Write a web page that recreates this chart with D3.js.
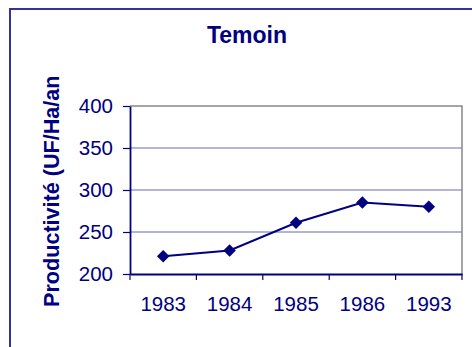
<!DOCTYPE html>
<html>
<head>
<meta charset="utf-8">
<script src="https://cdn.jsdelivr.net/npm/d3@7"></script>
<style>
  html, body { margin: 0; padding: 0; background: #fff; }
  svg { display: block; }
  text { font-family: "Liberation Sans", Arial, sans-serif; }
</style>
</head>
<body>
<svg id="chart" width="472" height="347"></svg>
<script>
// Productivity of the control plot, by year
const years = ["1983", "1984", "1985", "1986", "1993"];
const productivity = [221, 228, 261, 285, 280];
const yTicks = [200, 250, 300, 350, 400];
const chartTitle = "Temoin";
const yTitle = "Productivité (UF/Ha/an";

const plot = { left: 130, right: 462, top: 106, bottom: 274 };
const navy = "#000080";

const svg = d3.select("#chart");

// outer chart frame (runs off the right and bottom edges)
svg.append("rect")
  .attr("x", 10).attr("y", 9)
  .attr("width", 480).attr("height", 360)
  .attr("fill", "#fff")
  .attr("stroke", "#333399")
  .attr("stroke-width", 2);

const x = d3.scaleBand().domain(years).range([plot.left, plot.right]).padding(0);
const y = d3.scaleLinear().domain([200, 400]).range([plot.bottom, plot.top]);

// horizontal gridlines
svg.append("g")
  .selectAll("line")
  .data(yTicks.filter(t => t > 200 && t < 400))
  .join("line")
  .attr("x1", plot.left).attr("x2", plot.right)
  .attr("y1", d => y(d)).attr("y2", d => y(d))
  .attr("stroke", "#6b6bb0")
  .attr("stroke-width", 1.2);

// grey plot-area border (top and right)
svg.append("path")
  .attr("d", `M${plot.left},${y(400)}H${plot.right}V${plot.bottom}`)
  .attr("fill", "none")
  .attr("stroke", "#888")
  .attr("stroke-width", 1.5);

// y axis
const yAxis = svg.append("g")
  .attr("transform", `translate(${plot.left},0)`)
  .call(d3.axisLeft(y).tickValues(yTicks).tickSize(7).tickPadding(10).tickSizeOuter(0));
yAxis.select(".domain").attr("stroke", navy).attr("stroke-width", 1.8);
yAxis.selectAll(".tick line").attr("stroke", navy).attr("stroke-width", 1.2);
yAxis.selectAll(".tick text")
  .attr("fill", navy)
  .attr("font-size", 20.5)
  .attr("font-family", "Liberation Sans, Arial, sans-serif");

// x axis: labels centred in each category, ticks on category boundaries
const xAxis = svg.append("g")
  .attr("transform", `translate(0,${plot.bottom})`)
  .call(d3.axisBottom(x).tickSize(0).tickPadding(22).tickSizeOuter(0));
xAxis.select(".domain").attr("stroke", navy).attr("stroke-width", 1.8);
xAxis.selectAll(".tick text")
  .attr("fill", navy)
  .attr("font-size", 20.5)
  .attr("font-family", "Liberation Sans, Arial, sans-serif");

const bounds = years.map(c => x(c)).concat([x.range()[1]]);
svg.append("g")
  .selectAll("line")
  .data(bounds)
  .join("line")
  .attr("x1", d => d).attr("x2", d => d)
  .attr("y1", plot.bottom).attr("y2", plot.bottom + 6)
  .attr("stroke", navy)
  .attr("stroke-width", 1.2);

// series line
const pts = years.map((c, i) => [x(c) + x.bandwidth() / 2, y(productivity[i])]);
svg.append("path")
  .attr("d", d3.line()(pts))
  .attr("fill", "none")
  .attr("stroke", navy)
  .attr("stroke-width", 2);

// diamond markers
svg.append("g")
  .selectAll("path")
  .data(pts)
  .join("path")
  .attr("transform", d => `translate(${d[0]},${d[1]}) rotate(45)`)
  .attr("d", d3.symbol().type(d3.symbolSquare).size(78))
  .attr("fill", navy);

// title
svg.append("text")
  .attr("x", 247).attr("y", 43)
  .attr("text-anchor", "middle")
  .attr("font-size", 23)
  .attr("font-weight", "bold")
  .attr("fill", navy)
  .text(chartTitle);

// y axis title
svg.append("text")
  .attr("transform", "translate(59,307) rotate(-90)")
  .attr("text-anchor", "start")
  .attr("font-size", 21.6)
  .attr("font-weight", "bold")
  .attr("fill", navy)
  .text(yTitle);
</script>
</body>
</html>
